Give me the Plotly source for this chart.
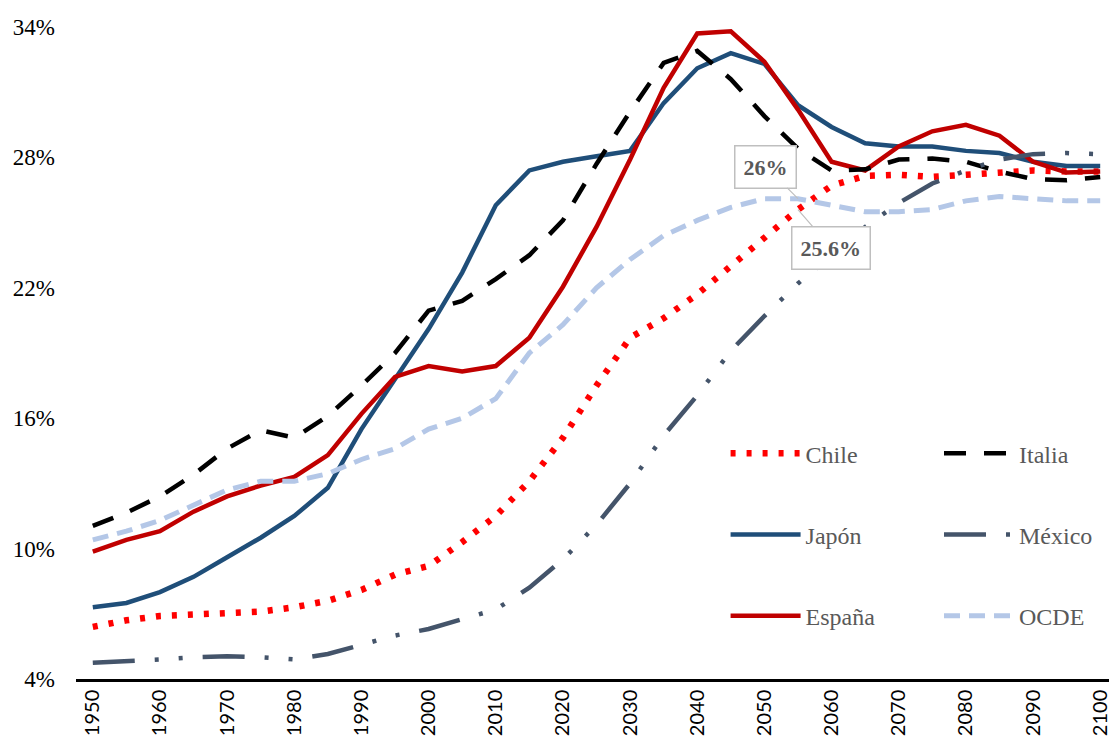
import plotly.graph_objects as go

years = list(range(1950, 2101, 5))

chile = [6.4, 6.7, 6.9, 6.95, 7.0, 7.1, 7.3, 7.6, 8.1, 8.8, 9.2, 10.3, 11.5, 13.1, 15.1, 17.5,
         19.7, 20.6, 21.7, 23.0, 24.25, 25.6, 26.7, 27.15, 27.2, 27.1, 27.2, 27.3, 27.4, 27.35, 27.35]
italia = [11.05, 11.65, 12.4, 13.4, 14.6, 15.45, 15.1, 16.1, 17.5, 19.0, 20.95, 21.4, 22.4, 23.5,
          25.1, 27.7, 30.1, 32.35, 32.9, 31.6, 29.9, 28.4, 27.4, 27.45, 27.9, 27.95, 27.8, 27.35,
          27.0, 26.95, 27.1]
japon = [7.3, 7.5, 8.0, 8.7, 9.6, 10.5, 11.5, 12.8, 15.5, 17.8, 20.1, 22.7, 25.8, 27.4, 27.8,
         28.05, 28.3, 30.5, 32.1, 32.8, 32.3, 30.4, 29.4, 28.65, 28.5, 28.5, 28.3, 28.2, 27.8,
         27.6, 27.6]
mexico = [4.75, 4.8, 4.9, 5.0, 5.05, 5.0, 4.9, 5.15, 5.6, 6.0, 6.3, 6.75, 7.2, 8.2, 9.5, 11.1,
          13.0, 15.2, 17.05, 19.1, 20.7, 22.2, 23.5, 24.8, 25.9, 26.8, 27.4, 27.9, 28.15, 28.2,
          28.15]
espana = [9.86, 10.4, 10.8, 11.7, 12.4, 12.9, 13.3, 14.3, 16.2, 17.9, 18.4, 18.15, 18.4, 19.7,
          22.05, 24.8, 27.9, 31.2, 33.7, 33.8, 32.4, 30.2, 27.8, 27.4, 28.5, 29.2, 29.5, 29.0,
          27.8, 27.3, 27.35]
ocde = [10.4, 10.8, 11.3, 12.0, 12.7, 13.1, 13.1, 13.45, 14.1, 14.6, 15.5, 16.0, 16.9, 19.0,
        20.3, 22.0, 23.3, 24.4, 25.1, 25.7, 26.1, 26.1, 25.8, 25.5, 25.5, 25.6, 26.0, 26.2,
        26.1, 26.0, 26.0]

y_ticks = [4, 10, 16, 22, 28, 34]
x_ticks = list(range(1950, 2101, 10))

series = [
    ("Chile", chile, dict(color="#FF0000", width=6.5, dash="5px,11px"), "legend"),
    ("Japón", japon, dict(color="#1F4E79", width=4.5), "legend"),
    ("España", espana, dict(color="#C00000", width=4.5), "legend"),
    ("Italia", italia, dict(color="#000000", width=4.5, dash="22px,18px"), "legend2"),
    ("México", mexico, dict(color="#44546A", width=4.5, dash="42px,20px,4px,20px,4px,20px"), "legend2"),
    ("OCDE", ocde, dict(color="#B4C7E7", width=5, dash="16px,9px"), "legend2"),
]

fig = go.Figure()
for name, vals, line, leg in series:
    fig.add_trace(go.Scatter(x=years, y=vals, mode="lines", name=name, line=line,
                             legend=leg, legendgroup=name, hoverinfo="skip"))

legend_common = dict(
    orientation="v", bgcolor="rgba(0,0,0,0)", borderwidth=0,
    font=dict(family="Liberation Serif", size=24, color="#595959"),
    tracegroupgap=47, itemwidth=70, yanchor="top",
)

fig.update_layout(
    width=1109, height=728,
    margin=dict(l=68, r=0, t=19, b=54),
    paper_bgcolor="white", plot_bgcolor="white",
    showlegend=True,
    legend=dict(x=0.624, y=0.38, xanchor="left", **legend_common),
    legend2=dict(x=0.829, y=0.38, xanchor="left", **legend_common),
    xaxis=dict(
        range=[1947.5, 2102.5], tickmode="array", tickvals=x_ticks,
        ticktext=[str(v) for v in x_ticks], tickangle=-90,
        tickfont=dict(family="Lato", size=20, color="#000000"),
        showgrid=False, zeroline=False, showline=True, linecolor="#000000", linewidth=2.5,
        ticks="",
    ),
    yaxis=dict(
        range=[4, 34], tickmode="array", tickvals=y_ticks,
        ticktext=[f"{v}%" for v in y_ticks],
        tickfont=dict(family="Liberation Serif", size=23, color="#000000"),
        showgrid=False, zeroline=False, showline=False, ticks="",
        ticklabelstandoff=20,
    ),
    annotations=[
        dict(x=2055, y=26.1, xref="x", yref="y", text="<b>26%</b>",
             showarrow=True, arrowhead=0, arrowwidth=1.2, arrowcolor="#BFBFBF",
             ax=-32, ay=-32, bordercolor="#BFBFBF", borderwidth=1.5, borderpad=8,
             bgcolor="white", font=dict(family="Liberation Serif", size=22, color="#595959")),
        dict(x=2055, y=25.6, xref="x", yref="y", text="<b>25.6%</b>",
             showarrow=True, arrowhead=0, arrowwidth=1.2, arrowcolor="#BFBFBF",
             ax=33, ay=38, bordercolor="#BFBFBF", borderwidth=1.5, borderpad=8,
             bgcolor="white", font=dict(family="Liberation Serif", size=22, color="#595959")),
    ],
)

fig.write_html("out.html")
